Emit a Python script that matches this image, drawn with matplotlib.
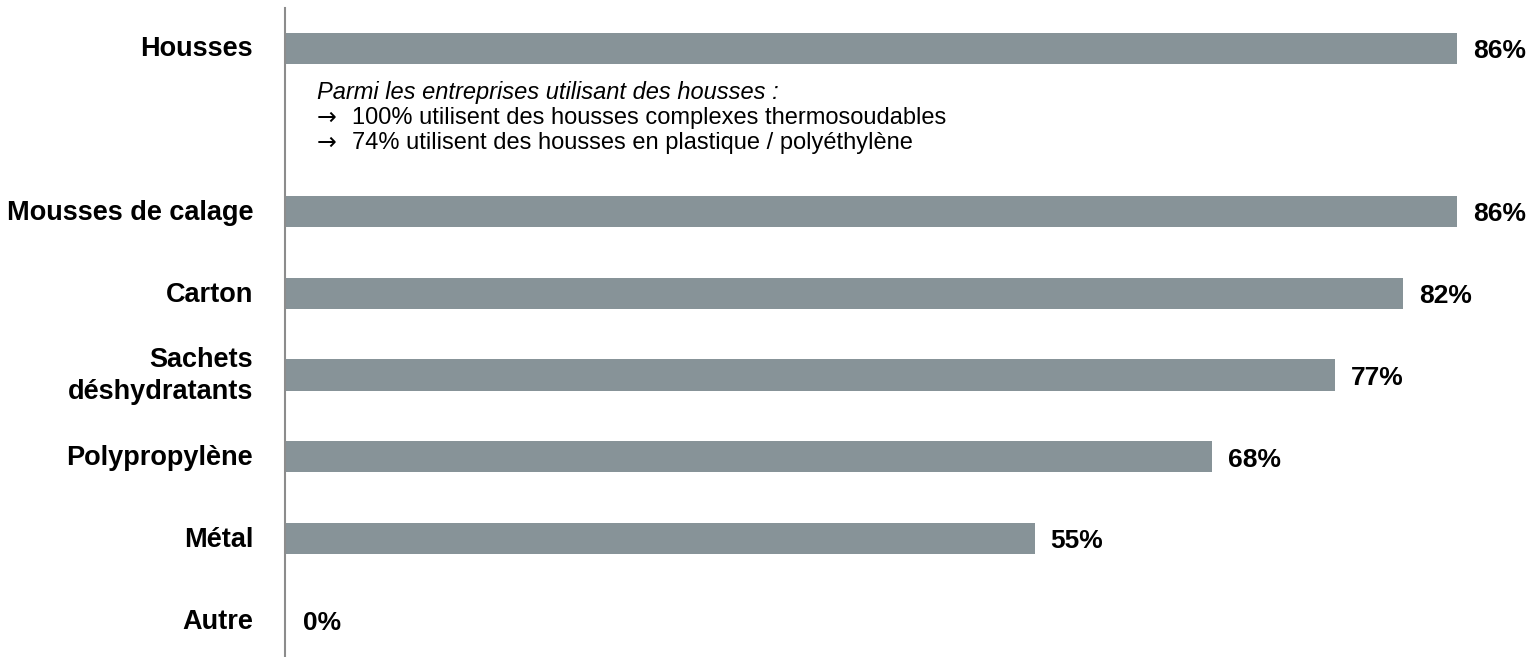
import matplotlib.pyplot as plt

categories = ['Housses', 'Mousses de calage', 'Carton', 'Sachets\ndéshydratants',
              'Polypropylène', 'Métal', 'Autre']
values = [86, 86, 82, 77, 68, 55, 0]
# Housses row is followed by an annotation block, so it sits one slot higher
positions = [0, 2, 3, 4, 5, 6, 7]
note_title = 'Parmi les entreprises utilisant des housses :'
note_lines = ['100% utilisent des housses complexes thermosoudables',
              '74% utilisent des housses en plastique / polyéthylène']

plt.rcParams['font.family'] = ['Liberation Sans', 'DejaVu Sans']

W, H = 1530, 657
fig = plt.figure(figsize=(W / 100, H / 100), dpi=100)
ax = fig.add_axes([285 / W, 0, 1245 / W, 649 / H])

bar_color = '#879398'
ax.barh(positions, values, height=0.38, color=bar_color)

ax.set_xlim(0, 1245 / 13.63)
ax.set_ylim(7.45, -0.49)

for p, v, c in zip(positions, values, categories):
    ax.annotate(f'{v}%', (v, p), xytext=(11.5 if v else 13, -2), textcoords='offset points',
                ha='left', va='center', fontsize=19, fontweight='bold')
    ax.annotate(c, (0, p), xytext=(-23, -1), textcoords='offset points',
                ha='right', va='center', fontsize=19.5, fontweight='bold',
                multialignment='right', linespacing=1.3)

ax.text(2.35, 0.54, note_title, fontsize=17, style='italic', va='center')
for i, line in enumerate(note_lines):
    y = 0.86 + i * 0.3
    ax.text(2.35, y, '\u2192', fontsize=17, va='center', family='DejaVu Sans')
    ax.text(4.92, y, line, fontsize=17, va='center')

for s in ['top', 'right', 'bottom']:
    ax.spines[s].set_visible(False)
ax.spines['left'].set_color('#8c8c8c')
ax.spines['left'].set_linewidth(1.5)
ax.set_xticks([])
ax.set_yticks([])

fig.savefig('out.png', dpi=100)
